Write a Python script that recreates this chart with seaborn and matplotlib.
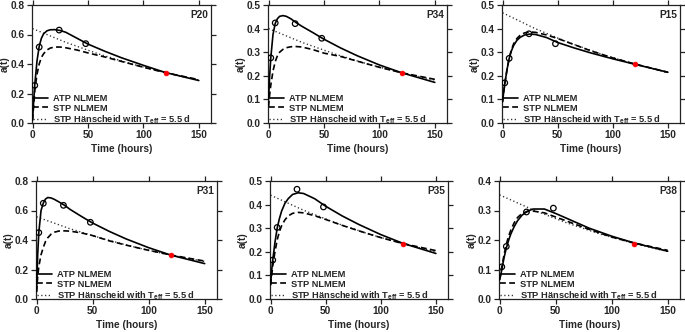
import matplotlib
matplotlib.use("Agg")
import matplotlib.pyplot as plt
import seaborn as sns
import pandas as pd
from matplotlib.ticker import FormatStrFormatter

# ---------------- data ----------------
T_MODEL = [0, 1, 2, 4, 6, 8, 10, 13, 16, 20, 25, 30, 40, 50, 65, 80, 100, 120, 150]
T_HAN = [0, 30, 60, 90, 120, 150]
T_OBS = [2, 6, 24, 48]
T_RED = [120]

P20_ATP = [0.02, 0.15, 0.26, 0.42, 0.52, 0.575, 0.605, 0.625, 0.632, 0.633, 0.627, 0.615, 0.575, 0.535, 0.487, 0.443, 0.391, 0.342, 0.288]
P20_STP = [0.02, 0.12, 0.22, 0.33, 0.40, 0.445, 0.47, 0.495, 0.508, 0.515, 0.515, 0.51, 0.495, 0.475, 0.448, 0.418, 0.378, 0.341, 0.294]
P20_HAN = [0.64, 0.547, 0.467, 0.399, 0.341, 0.291]
P20_OBS = [0.255, 0.515, 0.63, 0.538]
P20_RED = [0.34]

P34_ATP = [0.10, 0.20, 0.275, 0.375, 0.422, 0.442, 0.452, 0.455, 0.452, 0.442, 0.425, 0.41, 0.383, 0.355, 0.318, 0.285, 0.246, 0.213, 0.172]
P34_STP = [0.07, 0.12, 0.16, 0.22, 0.26, 0.285, 0.30, 0.312, 0.319, 0.323, 0.324, 0.322, 0.311, 0.296, 0.282, 0.262, 0.236, 0.213, 0.185]
P34_HAN = [0.40, 0.342, 0.292, 0.249, 0.213, 0.182]
P34_OBS = [0.276, 0.424, 0.421, 0.359]
P34_RED = [0.213]

P15_ATP = [0.09, 0.13, 0.165, 0.225, 0.273, 0.305, 0.328, 0.35, 0.363, 0.373, 0.377, 0.375, 0.362, 0.341, 0.318, 0.297, 0.272, 0.249, 0.215]
P15_STP = [0.09, 0.13, 0.165, 0.225, 0.275, 0.31, 0.335, 0.358, 0.372, 0.382, 0.386, 0.384, 0.373, 0.358, 0.332, 0.306, 0.276, 0.25, 0.215]
P15_HAN = [0.467, 0.399, 0.341, 0.291, 0.249, 0.213]
P15_OBS = [0.17, 0.274, 0.378, 0.336]
P15_RED = [0.249]

P31_ATP = [0.05, 0.30, 0.45, 0.60, 0.65, 0.678, 0.688, 0.685, 0.675, 0.658, 0.635, 0.607, 0.56, 0.515, 0.458, 0.407, 0.348, 0.297, 0.24]
P31_STP = [0.05, 0.15, 0.22, 0.30, 0.35, 0.39, 0.415, 0.44, 0.453, 0.461, 0.462, 0.46, 0.448, 0.43, 0.394, 0.365, 0.330, 0.298, 0.257]
P31_HAN = [0.557, 0.476, 0.407, 0.347, 0.297, 0.254]
P31_OBS = [0.45, 0.649, 0.635, 0.52]
P31_RED = [0.297]

P35_ATP = [0.06, 0.12, 0.165, 0.24, 0.30, 0.34, 0.372, 0.405, 0.425, 0.443, 0.45, 0.447, 0.425, 0.393, 0.352, 0.316, 0.273, 0.236, 0.193]
P35_STP = [0.06, 0.10, 0.14, 0.20, 0.25, 0.285, 0.31, 0.335, 0.352, 0.363, 0.367, 0.365, 0.353, 0.337, 0.312, 0.289, 0.26, 0.235, 0.205]
P35_HAN = [0.44, 0.376, 0.321, 0.274, 0.234, 0.20]
P35_OBS = [0.165, 0.303, 0.465, 0.39]
P35_RED = [0.235]

P38_ATP = [0.065, 0.08, 0.10, 0.14, 0.172, 0.198, 0.22, 0.245, 0.265, 0.284, 0.298, 0.305, 0.305, 0.29, 0.265, 0.24, 0.213, 0.19, 0.162]
P38_STP = [0.065, 0.085, 0.108, 0.15, 0.185, 0.212, 0.233, 0.258, 0.276, 0.29, 0.297, 0.298, 0.292, 0.278, 0.257, 0.236, 0.21, 0.19, 0.165]
P38_HAN = [0.353, 0.302, 0.258, 0.220, 0.188, 0.161]
P38_OBS = [0.109, 0.178, 0.295, 0.308]
P38_RED = [0.188]

PANEL_NAMES = ["P20", "P34", "P15", "P31", "P35", "P38"]
Y_MAX = [0.8, 0.5, 0.5, 0.8, 0.5, 0.4]
Y_STEP = [0.2, 0.1, 0.1, 0.2, 0.1, 0.1]
X_TICKS = [0, 50, 100, 150]
LEGEND_LABELS = ["ATP NLMEM", "STP NLMEM", r"STP Hänscheid with T$_\mathregular{eff}$ = 5.5 d"]

PANEL_DATA = [
    (P20_ATP, P20_STP, P20_HAN, P20_OBS, P20_RED),
    (P34_ATP, P34_STP, P34_HAN, P34_OBS, P34_RED),
    (P15_ATP, P15_STP, P15_HAN, P15_OBS, P15_RED),
    (P31_ATP, P31_STP, P31_HAN, P31_OBS, P31_RED),
    (P35_ATP, P35_STP, P35_HAN, P35_OBS, P35_RED),
    (P38_ATP, P38_STP, P38_HAN, P38_OBS, P38_RED),
]

# ---------------- style ----------------
sns.set_style("ticks")
plt.rcParams["font.family"] = ["Liberation Sans", "DejaVu Sans"]
plt.rcParams["font.weight"] = "bold"
plt.rcParams["axes.labelweight"] = "bold"
plt.rcParams["mathtext.fontset"] = "custom"
plt.rcParams["mathtext.rm"] = "Liberation Sans:bold"
plt.rcParams["mathtext.it"] = "Liberation Sans:bold"
plt.rcParams["mathtext.bf"] = "Liberation Sans:bold"

W, H = 685, 332
fig = plt.figure(figsize=(W / 100, H / 100), dpi=100)

# axes boxes in pixels: (left, right, top, bottom)
BOXES = [(32, 211, 5, 123), (268, 447, 5, 123), (502, 680, 5, 123),
         (36, 217, 181, 299), (270, 448, 181, 299), (499, 680, 181, 299)]

FS = 7.3
LFS = 6.7
for i, name in enumerate(PANEL_NAMES):
    l, r, t, b = BOXES[i]
    ax = fig.add_axes([l / W, (H - b) / H, (r - l) / W, (b - t) / H])
    atp, stp, han, obs, red = PANEL_DATA[i]
    df_m = pd.DataFrame({"t": T_MODEL, "atp": atp, "stp": stp})
    df_h = pd.DataFrame({"t": T_HAN, "han": han})
    df_o = pd.DataFrame({"t": T_OBS, "obs": obs})
    df_r = pd.DataFrame({"t": T_RED, "red": red})

    sns.lineplot(data=df_m, x="t", y="atp", ax=ax, color="black", lw=1.2,
                 linestyle="-", label=LEGEND_LABELS[0], zorder=3)
    sns.lineplot(data=df_m, x="t", y="stp", ax=ax, color="black", lw=1.2,
                 label=LEGEND_LABELS[1], zorder=3)
    ax.lines[-1].set_dashes((3.5, 2.0))
    sns.lineplot(data=df_h, x="t", y="han", ax=ax, color="#333333", lw=1.0,
                 label=LEGEND_LABELS[2], zorder=2)
    ax.lines[-1].set_dashes((0.9, 1.8))
    sns.scatterplot(data=df_o, x="t", y="obs", ax=ax, marker="o", s=16,
                    facecolor="none", edgecolor="black", linewidth=0.9, zorder=4)
    sns.scatterplot(data=df_r, x="t", y="red", ax=ax, marker="o", s=12,
                    color="red", edgecolor="red", linewidth=0.5, zorder=5)

    ax.set_xlim(-0.5, 161)
    ax.set_ylim(0, Y_MAX[i])
    n = int(round(Y_MAX[i] / Y_STEP[i]))
    ax.set_yticks([k * Y_STEP[i] for k in range(n + 1)])
    ax.yaxis.set_major_formatter(FormatStrFormatter("%.1f"))
    ax.set_xticks(X_TICKS)
    ax.tick_params(axis="both", which="major", direction="out", length=3.5,
                   width=0.9, pad=1.5, labelsize=FS, top=True, right=True,
                   labeltop=False, labelright=False, color="#222222")
    for lab in ax.get_xticklabels() + ax.get_yticklabels():
        lab.set_fontweight("bold")
    for sp in ax.spines.values():
        sp.set_visible(True)
        sp.set_linewidth(0.9)
        sp.set_color("#222222")
    ax.set_xlabel("Time (hours)", fontsize=FS, fontweight="bold", labelpad=3)
    ax.set_ylabel("a(t)", fontsize=FS, fontweight="bold", labelpad=1)
    ax.text(0.985, 0.96, name, transform=ax.transAxes, ha="right", va="top",
            fontsize=FS, fontweight="bold")

    leg = ax.legend(loc="lower left", bbox_to_anchor=(0.0, -4.0 / 118),
                    frameon=False, fontsize=LFS,
                    handlelength=1.6, handletextpad=0.5, labelspacing=0.05,
                    borderaxespad=0.0, borderpad=0.15)
    for txt in leg.get_texts():
        txt.set_fontweight("bold")

fig.savefig("out.png", dpi=100)
